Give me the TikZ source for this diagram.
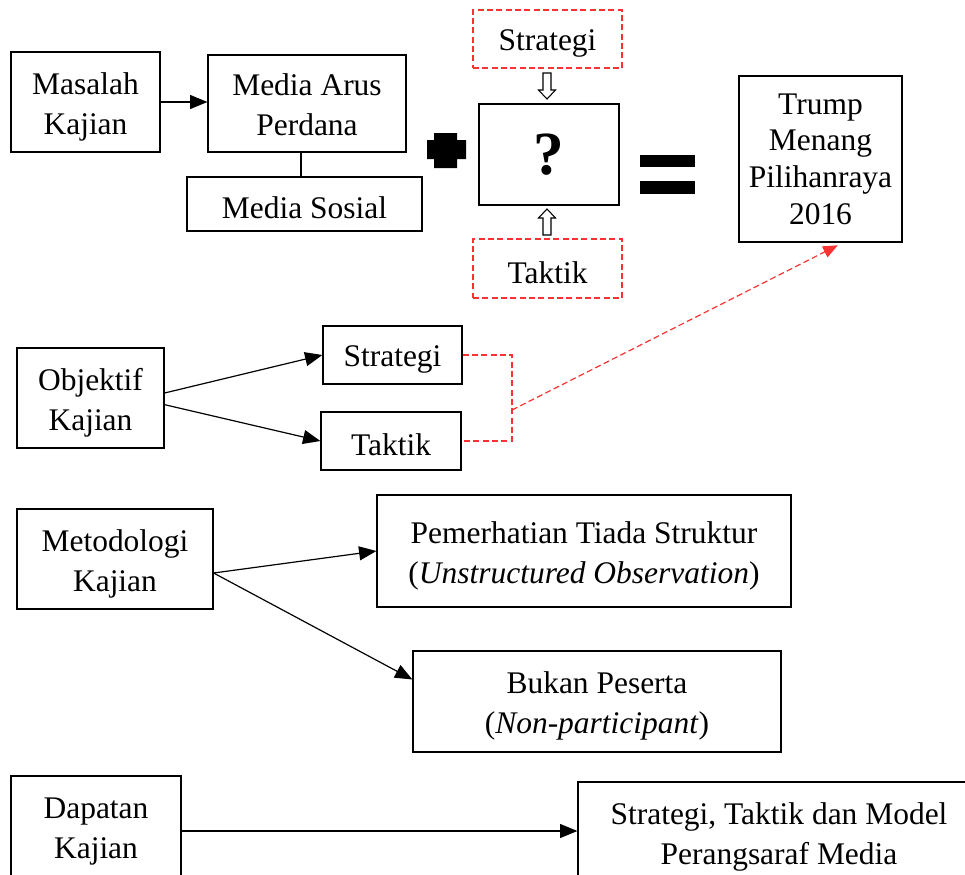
\documentclass[tikz,border=0pt]{standalone}
\usepackage{fontspec}
\setmainfont{Liberation Serif}
\usetikzlibrary{arrows.meta}
\definecolor{redd}{RGB}{250,50,50}
\newcommand\fs{\fontsize{23.6pt}{30pt}\selectfont}
\newcommand\dn[1]{\raisebox{-3pt}[\height][\depth]{\begin{tabular}{@{}c@{}}#1\end{tabular}}}
\tikzset{
  box/.style={draw, line width=0.9pt, inner sep=0pt, align=center, font=\fs},
  low/.style={execute at begin node={\rule{0pt}{22pt}}},
  rbox/.style={draw=redd, dash pattern=on 4.5pt off 2.5pt, line width=0.9pt, inner sep=0pt, align=center, font=\fs},
  arr/.style={line width=0.9pt, -{Triangle[length=13pt,width=10.5pt]}},
  rarr/.style={draw=redd, line width=0.9pt, dash pattern=on 4.5pt off 2.5pt, -{Triangle[length=11pt,width=9pt,fill=redd,color=redd]}},
  rline/.style={draw=redd, line width=0.9pt, dash pattern=on 4.5pt off 2.5pt},
  hollow/.style={draw, line width=0.8pt, fill=white},
}
\begin{document}
\begin{tikzpicture}[x=0.75pt,y=-0.75pt]
\useasboundingbox (0,0) rectangle (965,875);
\clip (0,0) rectangle (965,875);
% row 1
\node[box, minimum width={149*0.75pt}, minimum height={100*0.75pt}] (mk) at (85.5,102) {\dn{Masalah\\Kajian}};
\node[box, minimum width={198*0.75pt}, minimum height={97*0.75pt}] (mar) at (307,103.5) {\dn{Media Arus\\Perdana}};
\node[box, low, minimum width={235*0.75pt}, minimum height={54*0.75pt}] (ms) at (304.5,204) {Media Sosial};
\coordinate (x301) at (301,0);
\draw[arr] (mk.east) -- (mk.east -| mar.west);
\draw[line width=0.9pt] (mar.south -| x301) -- (ms.north -| x301);
% plus
\fill (434,133) -- (457,133) -- (457,140) -- (466,140) -- (466,159) -- (457,159) -- (457,168) -- (434,168) -- (434,159) -- (427,159) -- (427,140) -- (434,140) -- cycle;
% question
\node[rbox, low, minimum width={149*0.75pt}, minimum height={58*0.75pt}] (st1) at (547.5,39) {Strategi};
\node[box, minimum width={140*0.75pt}, minimum height={101*0.75pt}, font=\fontsize{46pt}{50pt}\selectfont\bfseries] (q) at (549,154.5) {?};
\node[rbox, low, minimum width={149*0.75pt}, minimum height={59*0.75pt}] (tk1) at (547.5,268.5) {Taktik};
% hollow arrows
\draw[hollow] (543,73) -- (551,73) -- (551,90) -- (555.5,90) -- (547,99) -- (538.5,90) -- (543,90) -- cycle;
\draw[hollow] (543,235) -- (551,235) -- (551,218) -- (555.5,218) -- (547,209) -- (538.5,218) -- (543,218) -- cycle;
% equals
\fill (640,155) rectangle (695,167);
\fill (640,181) rectangle (695,194);
% result
\node[box, minimum width={163*0.75pt}, minimum height={166*0.75pt}, font=\fontsize{23.6pt}{27.5pt}\selectfont] (tr) at (820.5,159) {Trump\\Menang\\Pilihanraya\\2016};
% row 2
\node[box, minimum width={147*0.75pt}, minimum height={100*0.75pt}] (obj) at (90.5,398) {\dn{Objektif\\Kajian}};
\node[box, low, minimum width={139*0.75pt}, minimum height={58*0.75pt}] (st2) at (392.5,355) {Strategi};
\node[box, low, minimum width={140*0.75pt}, minimum height={58*0.75pt}] (tk2) at (391,441) {Taktik};
\draw[arr] ([yshift=3.75pt]obj.east) -- (st2.west);
\draw[arr] ([yshift=-5pt]obj.east) -- (tk2.west);
\coordinate (bend) at (512,0);
\coordinate (jn) at (512,410);
\draw[rline] (st2.east) -- (st2.east -| bend) -- (tk2.east -| bend) -- (tk2.east);
\draw[rarr] (jn) -- ([xshift=13pt,yshift=-2pt]tr.south);
% row 3
\node[box, minimum width={196*0.75pt}, minimum height={100*0.75pt}] (met) at (115,559) {\dn{Metodologi\\Kajian}};
\node[box, minimum width={414*0.75pt}, minimum height={112*0.75pt}] (pem) at (584,551) {\dn{Pemerhatian Tiada Struktur\\(\textit{Unstructured Observation})}};
\node[box, minimum width={368*0.75pt}, minimum height={101*0.75pt}] (buk) at (597,701.5) {\dn{Bukan Peserta\\(\textit{Non-participant})}};
\draw[arr] ([yshift=-10.5pt]met.east) -- (pem.west);
\draw[arr] ([yshift=-10.5pt]met.east) -- ([yshift=16.5pt]buk.west);
% row 4
\node[box, minimum width={170*0.75pt}, minimum height={100*0.75pt}] (dap) at (96,826) {\dn{Dapatan\\Kajian}};
\node[box, minimum width={402*0.75pt}, minimum height={100*0.75pt}] (res) at (779,832) {\dn{Strategi, Taktik dan Model\\Perangsaraf Media}};
\draw[arr] ([yshift=-3.75pt]dap.east) -- ([yshift=-3.75pt]dap.east -| res.west);
\end{tikzpicture}
\end{document}
